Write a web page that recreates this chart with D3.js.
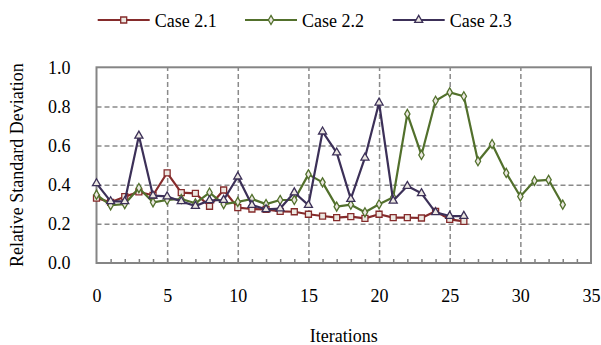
<!DOCTYPE html>
<html>
<head>
<meta charset="utf-8">
<script src="https://cdn.jsdelivr.net/npm/d3@7"></script>
<style>
  body { margin: 0; background: #fff; }
  svg { display: block; }
</style>
</head>
<body>
<svg id="chart" width="601" height="345"></svg>
<script>
// values
const seriesNames = ['Case 2.1', 'Case 2.2', 'Case 2.3'];
const case21 = [0.332, 0.31, 0.339, 0.363, 0.346, 0.461, 0.36, 0.356, 0.29, 0.373,
  0.283, 0.276, 0.274, 0.264, 0.262, 0.249, 0.24, 0.232, 0.237, 0.228,
  0.249, 0.232, 0.232, 0.23, 0.264, 0.223, 0.213];
const case22 = [0.349, 0.295, 0.301, 0.383, 0.31, 0.322, 0.327, 0.305, 0.36, 0.301,
  0.312, 0.327, 0.301, 0.322, 0.322, 0.453, 0.412, 0.288, 0.298, 0.259,
  0.3, 0.336, 0.762, 0.552, 0.829, 0.872, 0.852, 0.52, 0.608, 0.46,
  0.34, 0.42, 0.425, 0.298];
const case23 = [0.407, 0.315, 0.315, 0.65, 0.344, 0.34, 0.315, 0.291, 0.32, 0.322,
  0.441, 0.296, 0.274, 0.278, 0.36, 0.296, 0.671, 0.564, 0.327, 0.538,
  0.819, 0.318, 0.393, 0.356, 0.259, 0.24, 0.24];
const xTicks = [0, 5, 10, 15, 20, 25, 30, 35];
const yTicks = [0, 0.2, 0.4, 0.6, 0.8, 1.0];

const colors = ['#852b2b', '#52702c', '#3c3058'];
const symbols = [d3.symbolSquare, d3.symbolDiamond, d3.symbolTriangle];
const symSizes = [36, 24, 28];
const FONT = '"Liberation Serif", "Times New Roman", serif';

const svg = d3.select('#chart');
const plotL = 96.5, plotR = 591, plotT = 67.3, plotB = 263;

const x = d3.scaleLinear().domain([0, 35]).range([plotL, plotR]);
const y = d3.scaleLinear().domain([0, 1]).range([plotB, plotT]);

// grid
svg.append('g')
  .attr('transform', `translate(${plotL},0)`)
  .call(d3.axisLeft(y).tickValues(yTicks.slice(1, -1)).tickSize(-(plotR - plotL)).tickFormat(''))
  .call(g => g.select('.domain').remove())
  .selectAll('line')
  .attr('stroke', '#8a8a8a').attr('stroke-width', 1.5).attr('stroke-dasharray', '5,3');

svg.append('g')
  .attr('transform', `translate(0,${plotB})`)
  .call(d3.axisBottom(x).tickValues(xTicks.slice(1, -1)).tickSize(-(plotB - plotT)).tickFormat(''))
  .call(g => g.select('.domain').remove())
  .selectAll('line')
  .attr('stroke', '#8a8a8a').attr('stroke-width', 1.5).attr('stroke-dasharray', '5,3');

// minor ticks on x axis, pointing inward
svg.append('g')
  .attr('transform', `translate(0,${plotB})`)
  .call(d3.axisBottom(x).tickValues(d3.range(1, 35)).tickSize(-4).tickFormat(''))
  .call(g => g.select('.domain').remove())
  .selectAll('line')
  .attr('stroke', '#808080').attr('stroke-width', 1.5);

// frame
svg.append('rect')
  .attr('x', plotL).attr('y', plotT)
  .attr('width', plotR - plotL).attr('height', plotB - plotT)
  .attr('fill', 'none').attr('stroke', '#858585').attr('stroke-width', 2);

// tick labels
svg.append('g')
  .attr('transform', `translate(0,${plotB})`)
  .call(d3.axisBottom(x).tickValues(xTicks).tickSize(0).tickPadding(0))
  .call(g => g.select('.domain').remove())
  .selectAll('text')
  .attr('y', 39).attr('dy', null)
  .attr('fill', '#000')
  .style('font-family', FONT)
  .style('font-size', '18px');

svg.append('g')
  .attr('transform', `translate(${plotL},0)`)
  .call(d3.axisLeft(y).tickValues(yTicks).tickSize(0).tickFormat(d3.format('.1f')))
  .call(g => g.select('.domain').remove())
  .selectAll('text')
  .attr('x', -26).attr('dy', '0.33em')
  .attr('fill', '#000')
  .style('font-family', FONT)
  .style('font-size', '18px');

// axis titles
svg.append('text')
  .attr('x', (plotL + plotR) / 2).attr('y', 342)
  .attr('text-anchor', 'middle')
  .style('font-family', FONT)
  .style('font-size', '18px')
  .text('Iterations');

svg.append('text')
  .attr('transform', `translate(23,${(plotT + plotB) / 2}) rotate(-90)`)
  .attr('text-anchor', 'middle')
  .style('font-family', FONT)
  .style('font-size', '18px')
  .text('Relative Standard Deviation');

// series
const allSeries = [case21, case22, case23];
const line = d3.line().x((d, i) => x(i)).y(d => y(d));

allSeries.forEach((vals, k) => {
  const g = svg.append('g');
  g.append('path')
    .datum(vals)
    .attr('d', line)
    .attr('fill', 'none')
    .attr('stroke', colors[k])
    .attr('stroke-width', 2.2)
    .attr('stroke-linejoin', 'round');
  g.selectAll('path.pt')
    .data(vals)
    .enter()
    .append('path')
    .attr('class', 'pt')
    .attr('transform', (d, i) => `translate(${x(i)},${y(d)})`)
    .attr('d', d3.symbol().type(symbols[k]).size(symSizes[k]))
    .attr('fill', '#ece8e2')
    .attr('stroke', colors[k])
    .attr('stroke-width', 1.3);
});

// legend
const legendX = [97.7, 245, 392.7];
seriesNames.forEach((name, k) => {
  const g = svg.append('g').attr('transform', `translate(${legendX[k]},20)`);
  g.append('line')
    .attr('x1', 0).attr('x2', 52)
    .attr('stroke', colors[k]).attr('stroke-width', 2.2);
  g.append('path')
    .attr('transform', 'translate(26,0)')
    .attr('d', d3.symbol().type(symbols[k]).size(symSizes[k]))
    .attr('fill', '#ece8e2')
    .attr('stroke', colors[k])
    .attr('stroke-width', 1.3);
  g.append('text')
    .attr('x', 57).attr('y', 7)
    .style('font-family', FONT)
    .style('font-size', '18px')
    .text(name);
});
</script>
</body>
</html>
